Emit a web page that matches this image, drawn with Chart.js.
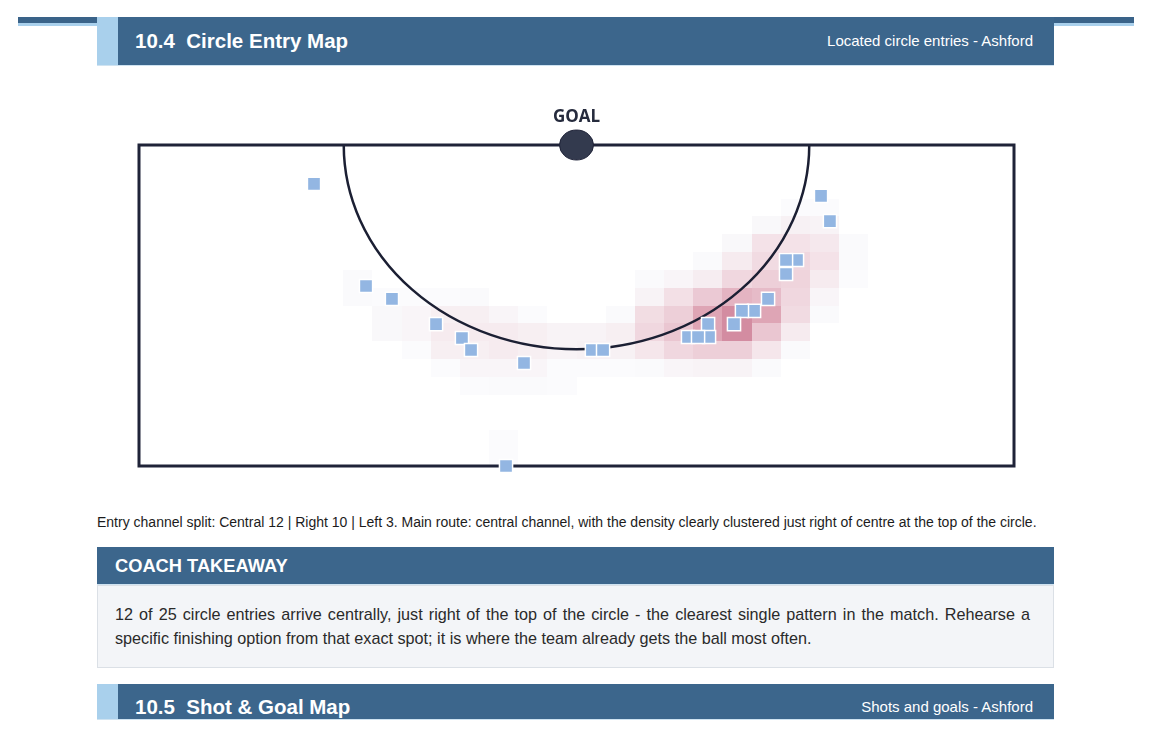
<!DOCTYPE html>
<html>
<head>
<meta charset="utf-8">
<script src="https://cdn.jsdelivr.net/npm/chart.js@4/dist/chart.umd.min.js"></script>
<style>
  html, body { margin: 0; padding: 0; background: #ffffff; }
  body { width: 1152px; height: 737px; position: relative; overflow: hidden; font-family: "Liberation Sans", Arial, sans-serif; }
  .rule-dark { position: absolute; left: 18px; top: 17px; width: 1116px; height: 6px; background: #3a6389; }
  .rule-light { position: absolute; left: 18px; top: 23px; width: 1116px; height: 3px; background: #a9d0ec; }
  .band { position: absolute; left: 97px; width: 957px; background: #3c668c; border-bottom: 1px solid #cfe3f1; box-sizing: border-box; }
  .band .stripe { position: absolute; left: 0; top: 0; bottom: 0; width: 21px; background: #a9d0ec; }
  .band .title { position: absolute; left: 38px; color: #fff; font-weight: bold; font-size: 20.5px; white-space: nowrap; }
  .band .sub { position: absolute; right: 21px; color: #fff; font-size: 15px; white-space: nowrap; }
  #wrap { position: absolute; left: 0; top: 70px; width: 1152px; height: 430px; }
  .caption { position: absolute; left: 97px; top: 513px; font-size: 14px; line-height: 18px; color: #1c1c1c; white-space: nowrap; }
  .coach-head { position: absolute; left: 97px; top: 547px; width: 957px; height: 38px; background: #3c668c; box-sizing: border-box; border-bottom: 1px solid #cfe3f1; }
  .coach-head span { position: absolute; left: 18px; top: 0; line-height: 38px; color: #fff; font-weight: bold; font-size: 18.3px; }
  .coach-body { position: absolute; left: 97px; top: 585px; width: 957px; height: 83px; background: #f3f5f8; border: 1px solid #dbe0e6; box-sizing: border-box; padding: 16px 23px 0 17px; font-size: 16.2px; line-height: 24px; color: #2a2a2a; text-align: justify; }
</style>
</head>
<body>
<div class="rule-dark"></div>
<div class="rule-light"></div>
<div class="band" style="top:17px;height:49px;">
  <div class="stripe"></div>
  <div class="title" style="top:12px;line-height:24px;">10.4&nbsp; Circle Entry Map</div>
  <div class="sub" style="top:14px;line-height:20px;">Located circle entries - Ashford</div>
</div>
<div id="wrap"><canvas id="c" width="1152" height="430"></canvas></div>
<div class="caption">Entry channel split: Central 12 | Right 10 | Left 3. Main route: central channel, with the density clearly clustered just right of centre at the top of the circle.</div>
<div class="coach-head"><span>COACH TAKEAWAY</span></div>
<div class="coach-body">12 of 25 circle entries arrive centrally, just right of the top of the circle - the clearest single pattern in the match. Rehearse a specific finishing option from that exact spot; it is where the team already gets the ball most often.</div>
<div class="band" style="top:684px;height:36px;">
  <div class="stripe"></div>
  <div class="title" style="top:11px;line-height:24px;">10.5&nbsp; Shot &amp; Goal Map</div>
  <div class="sub" style="top:13px;line-height:20px;">Shots and goals - Ashford</div>
</div>
<script>
// ---- Data (metres: x across 0-55, y from goal line 0-23) ----
const pitchWidth = 55;
const pitchDepth = 23;
const circleRadius = 14.63;
const goalX = 27.5;

// Circle entries (drawing order matters for overlaps)
const entryX = [11.0, 42.87, 43.43, 41.36, 40.67, 40.67, 39.54, 38.66, 37.90, 37.40, 35.77, 34.51, 35.83, 35.14, 14.27, 15.90, 18.67, 20.30, 20.87, 24.20, 28.47, 29.17, 23.07];
const entryY = [2.79, 3.65, 5.45, 8.24, 8.24, 9.24, 11.03, 11.89, 11.89, 12.83, 12.83, 13.76, 13.76, 13.76, 10.10, 11.03, 12.83, 13.83, 14.69, 15.62, 14.69, 14.69, 23.0];

// Density grid (30 columns x 18 rows across the pitch)
const gridCols = 30;
const gridRows = 18;
const heatCol = [22,23, 21,22,23, 20,21,22,23,24, 19,20,21,22,23,24,
  7,17,18,19,20,21,22,23,24,
  7,8,9,10,11,17,18,19,20,21,22,23,
  8,9,10,11,12,13,16,17,18,19,20,21,22,23,
  8,9,10,11,12,13,14,15,16,17,18,19,20,21,22,
  9,10,11,12,13,14,15,16,17,18,19,20,21,22,
  10,11,12,13,14,15,16,17,18,19,20,21,
  11,12,13,14, 12, 12];
const heatRow = [3,3, 4,4,4, 5,5,5,5,5, 6,6,6,6,6,6,
  7,7,7,7,7,7,7,7,7,
  8,8,8,8,8,8,8,8,8,8,8,8,
  9,9,9,9,9,9,9,9,9,9,9,9,9,9,
  10,10,10,10,10,10,10,10,10,10,10,10,10,10,10,
  11,11,11,11,11,11,11,11,11,11,11,11,11,11,
  12,12,12,12,12,12,12,12,12,12,12,12,
  13,13,13,13, 16, 17];
const heatVal = [0.02,0.02, 0.04,0.07,0.06, 0.04,0.14,0.14,0.11,0.03, 0.03,0.10,0.18,0.20,0.14,0.03,
  0.03,0.03,0.05,0.09,0.20,0.25,0.22,0.10,0.02,
  0.03,0.02,0.02,0.02,0.03,0.06,0.15,0.28,0.38,0.35,0.20,0.05,
  0.04,0.05,0.08,0.08,0.05,0.02,0.03,0.17,0.25,0.45,0.55,0.45,0.18,0.03,
  0.04,0.05,0.10,0.10,0.10,0.08,0.06,0.06,0.08,0.20,0.30,0.45,0.55,0.30,0.10,
  0.02,0.08,0.08,0.10,0.08,0.06,0.07,0.07,0.12,0.20,0.25,0.25,0.12,0.03,
  0.02,0.05,0.05,0.05,0.02,0.02,0.02,0.03,0.05,0.06,0.06,0.03,
  0.02,0.03,0.03,0.02, 0.02, 0.02];

// ---- Styling ----
const heatStops = [[0,[252,253,254]],[0.03,[250,250,252]],[0.06,[248,243,246]],[0.15,[243,224,230]],[0.3,[234,198,209]],[0.45,[222,165,181]],[0.55,[211,140,161]]];
function heatColor(v){
  for (let i=1;i<heatStops.length;i++){
    if (v <= heatStops[i][0]){
      const [a0,c0] = heatStops[i-1], [a1,c1] = heatStops[i];
      const t = (v-a0)/(a1-a0);
      return 'rgb(' + c0.map((c,k)=>Math.round(c+(c1[k]-c)*t)).join(',') + ')';
    }
  }
  return 'rgb(' + heatStops[heatStops.length-1][1].join(',') + ')';
}

const pitchPlugin = {
  id: 'pitch',
  beforeDatasetsDraw(chart){
    const {ctx, chartArea:a, scales:{x, y}} = chart;
    const cw = pitchWidth/gridCols, ch = pitchDepth/gridRows;
    ctx.save();
    for (let i=0;i<heatVal.length;i++){
      const x0 = Math.round(x.getPixelForValue(heatCol[i]*cw));
      const x1 = Math.round(x.getPixelForValue((heatCol[i]+1)*cw));
      const y0 = Math.round(y.getPixelForValue(heatRow[i]*ch));
      const y1 = Math.round(y.getPixelForValue((heatRow[i]+1)*ch));
      ctx.fillStyle = heatColor(heatVal[i]);
      ctx.fillRect(x0, y0, x1-x0, y1-y0);
    }
    const cx = x.getPixelForValue(goalX), cy = y.getPixelForValue(0);
    const rx = x.getPixelForValue(goalX+circleRadius) - cx;
    const ry = y.getPixelForValue(circleRadius) - cy;
    ctx.beginPath();
    ctx.ellipse(cx, cy, rx, ry, 0, 0, Math.PI);
    ctx.lineWidth = 2.5;
    ctx.strokeStyle = '#1b1f33';
    ctx.stroke();
    ctx.lineWidth = 3;
    ctx.strokeStyle = '#1f2338';
    ctx.strokeRect(a.left, a.top, a.right-a.left, a.bottom-a.top);
    ctx.beginPath();
    ctx.ellipse(cx, cy, 17, 15, 0, 0, Math.PI*2);
    ctx.fillStyle = '#333a4e';
    ctx.fill();
    ctx.lineWidth = 1;
    ctx.strokeStyle = '#1f2338';
    ctx.stroke();
    ctx.fillStyle = '#262b3d';
    ctx.font = 'bold 17px "Open Sans", "DejaVu Sans", sans-serif';
    ctx.textAlign = 'center';
    ctx.textBaseline = 'middle';
    ctx.fillText('GOAL', cx, a.top - 28);
    ctx.restore();
  }
};

new Chart(document.getElementById('c'), {
  type: 'scatter',
  data: {
    datasets: [{
      data: entryX.map((v,i)=>({x:v, y:entryY[i]})),
      pointStyle: 'rect',
      pointRadius: 9.3,
      pointHoverRadius: 9.3,
      backgroundColor: '#93b6e2',
      borderColor: '#ffffff',
      borderWidth: 1.5,
      clip: false
    }]
  },
  options: {
    responsive: false,
    devicePixelRatio: 1,
    animation: false,
    layout: { padding: { left: 139, right: 138, top: 75, bottom: 34 } },
    scales: {
      x: { type: 'linear', min: 0, max: pitchWidth, display: false },
      y: { type: 'linear', min: 0, max: pitchDepth, reverse: true, display: false }
    },
    plugins: { legend: { display: false }, tooltip: { enabled: false } }
  },
  plugins: [pitchPlugin]
});
</script>
</body>
</html>
